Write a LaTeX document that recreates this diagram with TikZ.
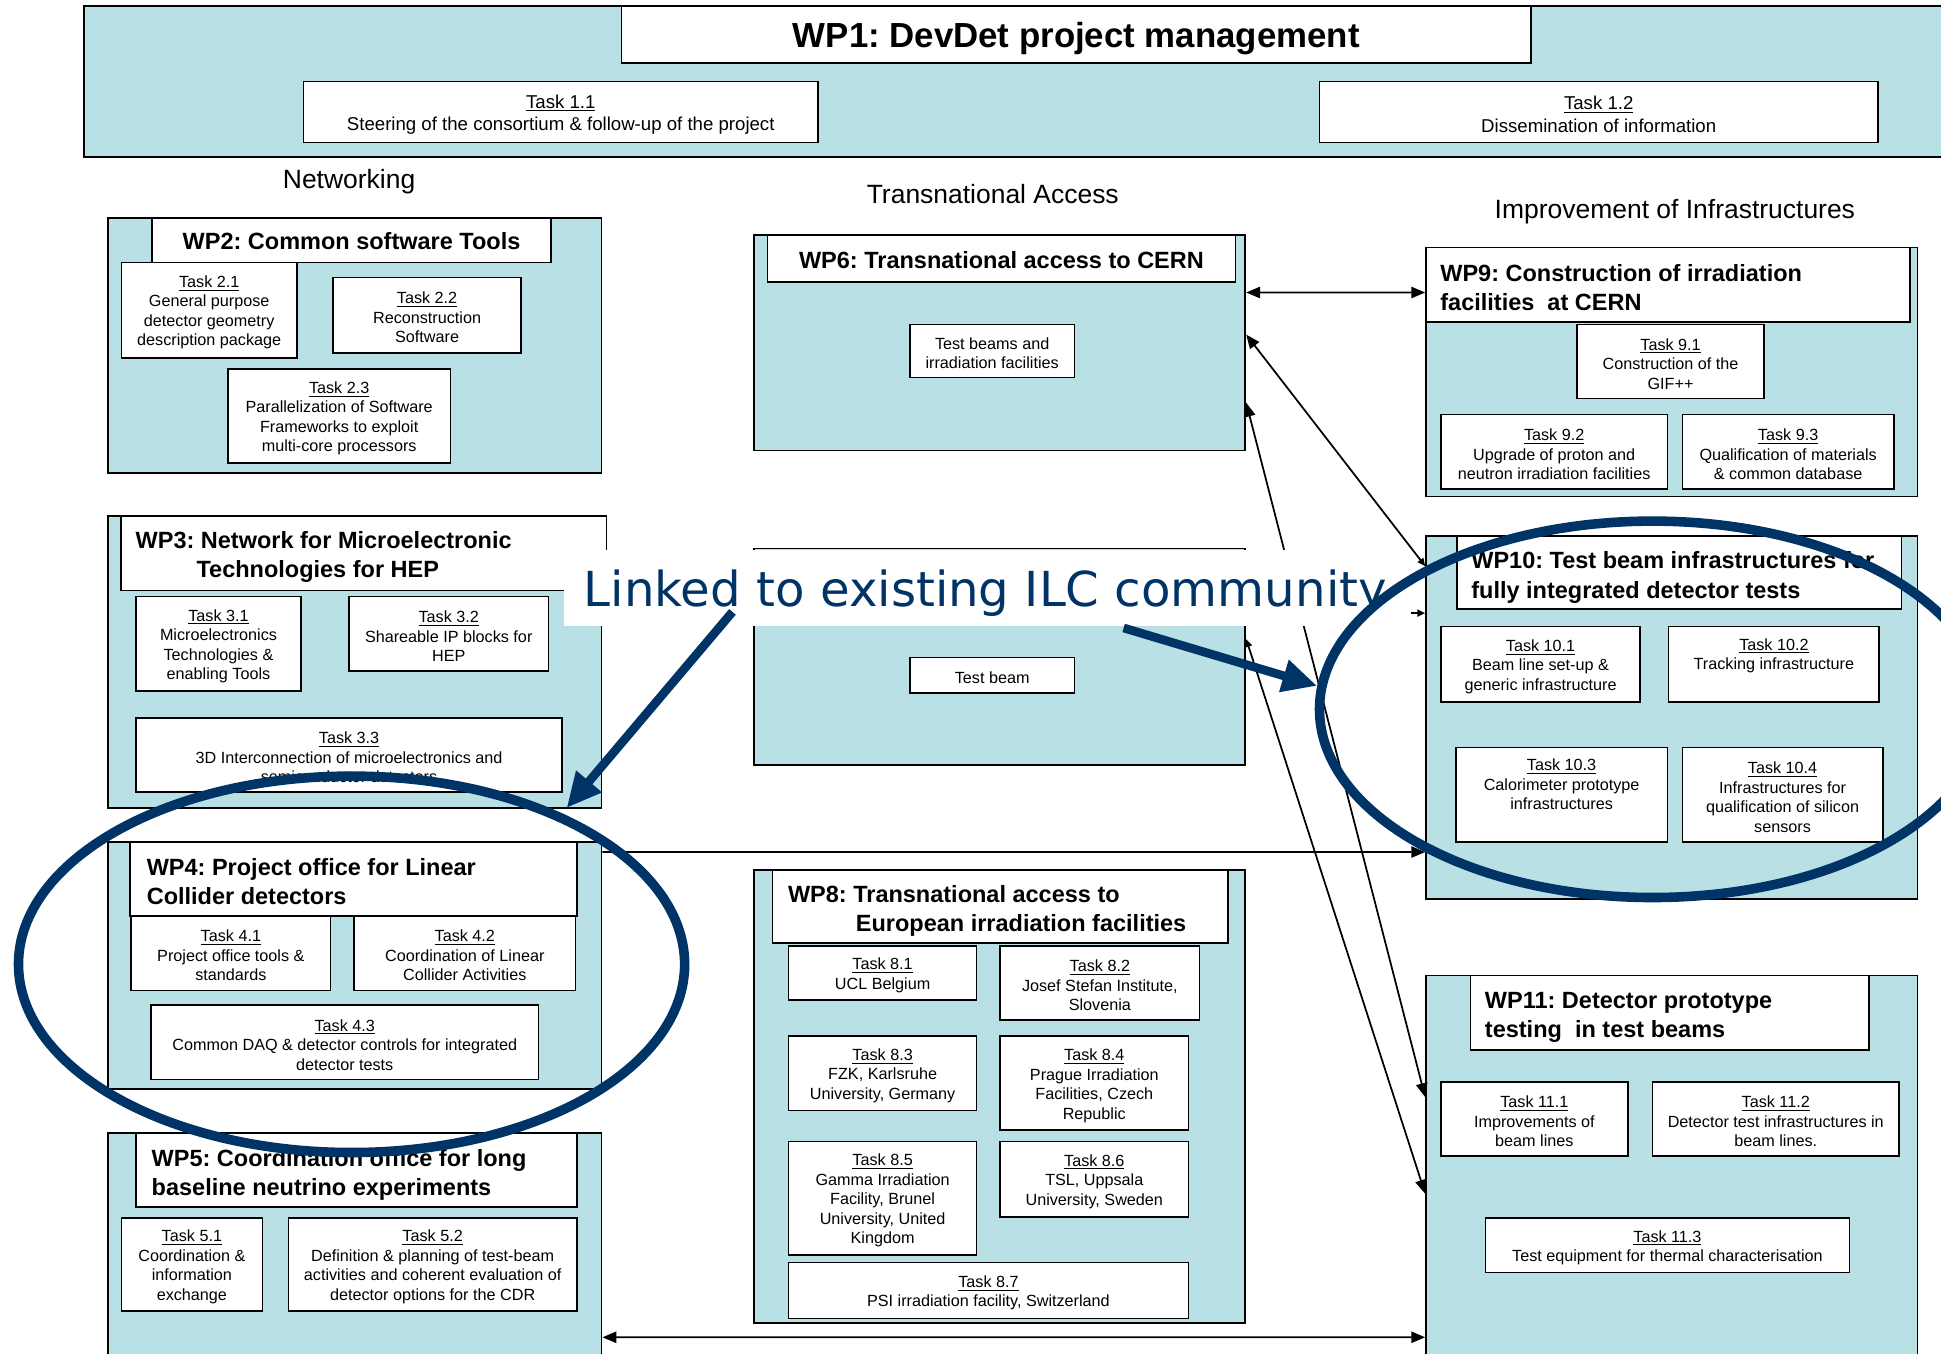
\documentclass[tikz,border=0pt]{standalone}
\usepackage{fontspec}
\setmainfont{Liberation Sans}
\newfontfamily\ilcfont{DejaVu Sans}
\usetikzlibrary{arrows.meta,calc,fit,shapes.geometric}
\definecolor{wpfill}{RGB}{185,224,228}
\definecolor{ilcblue}{RGB}{0,51,102}
\newcommand{\tname}[1]{\underline{Task #1}}
\tikzset{bigtip/.tip={Triangle[length=8pt,width=6.5pt]},
  smalltip/.tip={Triangle[length=4.5pt,width=4pt]}}
\frenchspacing

\begin{document}
\begin{tikzpicture}[x=0.025cm,y=-0.025cm,
  wp/.style={draw,fill=wpfill,line width=1pt,inner sep=0pt},
  titlebox/.style={draw,fill=white,line width=1pt,inner sep=0pt},
  wptitle/.style={font=\fontsize{13.5}{16.7}\selectfont\bfseries},
  wptext/.style={anchor=west,align=left,inner sep=0pt,wptitle},
  titletext/.style={label={[inner sep=0pt,yshift=-0.8pt,wptitle]center:{#1}}},
  task/.style={draw,fill=white,line width=0.9pt,inner sep=0pt},
  tasktext/.style={label={[inner sep=0pt,yshift=-1.4pt,align=center,font=\fontsize{9.3}{11.2}\selectfont]center:{#1}}},
  bigtext/.style={label={[inner sep=0pt,yshift=-1.4pt,align=center,font=\fontsize{10.7}{12.8}\selectfont]center:{#1}}},
  grouplabel/.style={font=\fontsize{15.2}{18}\selectfont},
  conn/.style={line width=1pt},
  ring/.style={ellipse,draw=ilcblue,line width=5.5pt,inner sep=0pt,
    minimum width=13.45cm,minimum height=7.6cm},
  ilcarrow/.style={draw=ilcblue,line width=5pt,-{Triangle[length=20pt,width=18pt]}},
  ilctext/.style={text=ilcblue,inner sep=0pt,font=\ilcfont\fontsize{27.7}{32}\selectfont}]
\useasboundingbox (0,0) rectangle (1568,1093);

\node[wp,fit={(68,5) (1575,127)}] (wp1) {};
\node[titlebox,fit={(502,5) (1237,51)},label={[inner sep=0pt,yshift=-2.5pt,font=\fontsize{20}{24}\selectfont\bfseries]center:{WP1: DevDet project management}}] (wp1t) {};
\node[task,fit={(245,66) (661,115)},bigtext={\tname{1.1}\\Steering of the consortium \& follow-up of the project}] (t11) {};
\node[task,fit={(1066,66) (1517,115)},bigtext={\tname{1.2}\\Dissemination of information}] (t12) {};

\node[grouplabel] (net) at (282,147) {Networking};
\node[grouplabel] (ta) at (802,157) {Transnational Access};
\node[grouplabel] (ii) at (1353,171) {Improvement of Infrastructures};

\node[wp,fit={(87,176) (486,382)}] (wp2) {};
\node[titlebox,fit={(123,176) (445,212)},titletext={WP2: Common software Tools}] (wp2t) {};
\node[task,fit={(98,212) (240,289)},tasktext={\tname{2.1}\\General purpose\\detector geometry\\description package}] (t21) {};
\node[task,fit={(269,224) (421,285)},tasktext={\tname{2.2}\\Reconstruction\\Software}] (t22) {};
\node[task,fit={(184,298) (364,374)},tasktext={\tname{2.3}\\Parallelization of Software\\Frameworks to exploit\\multi-core processors}] (t23) {};

\node[wp,fit={(87,417) (486,653)}] (wp3) {};
\node[titlebox,fit={(98,417) (490,477)}] (wp3t) {};
\node[wptext] (wp3n) at ($(wp3t.west)+(12,3)$) {WP3: Network for Microelectronic\\\hspace*{35pt}Technologies for HEP};
\node[task,fit={(110,482) (243,558)},tasktext={\tname{3.1}\\Microelectronics\\Technologies \&\\enabling Tools}] (t31) {};
\node[task,fit={(282,482) (443,542)},tasktext={\tname{3.2}\\Shareable IP blocks for\\HEP}] (t32) {};
\node[task,fit={(110,580) (454,640)},tasktext={\tname{3.3}\\3D Interconnection of microelectronics and\\semiconductor detectors}] (t33) {};

\node[wp,fit={(87,680) (486,880)}] (wp4) {};
\node[titlebox,fit={(105,680) (466,740)}] (wp4t) {};
\node[wptext] (wp4n) at ($(wp4t.west)+(14,2)$) {WP4: Project office for Linear\\Collider detectors};
\node[task,fit={(106,740) (267,800)},tasktext={\tname{4.1}\\Project office tools \&\\standards}] (t41) {};
\node[task,fit={(286,740) (465,800)},tasktext={\tname{4.2}\\Coordination of Linear\\Collider Activities}] (t42) {};
\node[task,fit={(122,812) (435,872)},tasktext={\tname{4.3}\\Common DAQ \& detector controls for integrated\\detector tests}] (t43) {};

\node[wp,fit={(87,915) (486,1110)}] (wp5) {};
\node[titlebox,fit={(110,915) (466,975)}] (wp5t) {};
\node[wptext] (wp5n) at ($(wp5t.west)+(13,4)$) {WP5: Coordination office for long\\baseline neutrino experiments};
\node[task,fit={(98,984) (212,1059)},tasktext={\tname{5.1}\\Coordination \&\\information\\exchange}] (t51) {};
\node[task,fit={(233,984) (466,1059)},tasktext={\tname{5.2}\\Definition \& planning of test-beam\\activities and coherent evaluation of\\detector options for the CDR}] (t52) {};

\node[wp,fit={(609,190) (1006,364)}] (wp6) {};
\node[titlebox,fit={(620,190) (998,228)},titletext={WP6: Transnational access to CERN}] (wp6t) {};
\node[task,fit={(735,262) (868,305)},tasktext={Test beams and\\irradiation facilities}] (t6) {};

\node[wp,fit={(609,443) (1006,618)}] (wp7) {};
\node[task,fit={(735,531) (868,560)},tasktext={Test beam}] (t7) {};

\node[wp,fit={(609,703) (1006,1069)}] (wp8) {};
\node[titlebox,fit={(624,703) (992,762)}] (wp8t) {};
\node[wptext] (wp8n) at ($(wp8t.west)+(13,3)$) {WP8: Transnational access to\\\hspace*{39pt}European irradiation facilities};
\node[task,fit={(637,764) (789,808)},tasktext={\tname{8.1}\\UCL Belgium}] (t81) {};
\node[task,fit={(808,764) (969,824)},tasktext={\tname{8.2}\\Josef Stefan Institute,\\Slovenia}] (t82) {};
\node[task,fit={(637,837) (789,897)},tasktext={\tname{8.3}\\FZK, Karlsruhe\\University, Germany}] (t83) {};
\node[task,fit={(808,837) (960,913)},tasktext={\tname{8.4}\\Prague Irradiation\\Facilities, Czech\\Republic}] (t84) {};
\node[task,fit={(637,922) (789,1014)},tasktext={\tname{8.5}\\Gamma Irradiation\\Facility, Brunel\\University, United\\Kingdom}] (t85) {};
\node[task,fit={(808,922) (960,983)},tasktext={\tname{8.6}\\TSL, Uppsala\\University, Sweden}] (t86) {};
\node[task,fit={(637,1020) (960,1065)},tasktext={\tname{8.7}\\PSI irradiation facility, Switzerland}] (t87) {};

\node[wp,fit={(1152,200) (1549,401)}] (wp9) {};
\node[titlebox,fit={(1152,200) (1543,260)}] (wp9t) {};
\node[wptext] (wp9n) at ($(wp9t.west)+(12,2)$) {WP9: Construction of irradiation\\facilities\ \ at CERN};
\node[task,fit={(1274,262) (1425,322)},tasktext={\tname{9.1}\\Construction of the\\GIF++}] (t91) {};
\node[task,fit={(1164,335) (1347,395)},tasktext={\tname{9.2}\\Upgrade of proton and\\neutron irradiation facilities}] (t92) {};
\node[task,fit={(1359,335) (1530,395)},tasktext={\tname{9.3}\\Qualification of materials\\\& common database}] (t93) {};

\node[wp,fit={(1152,433) (1549,726)}] (wp10) {};
\node[titlebox,fit={(1177,433) (1536,492)}] (wp10t) {};
\node[wptext] (wp10n) at ($(wp10t.west)+(12,4)$) {WP10: Test beam infrastructures for\\fully integrated detector tests};
\node[task,fit={(1164,506) (1325,567)},tasktext={\tname{10.1}\\Beam line set-up \&\\generic infrastructure}] (t101) {};
\node[task,fit={(1348,506) (1518,567)},tasktext={\tname{10.2}\\Tracking infrastructure\\\strut}] (t102) {};
\node[task,fit={(1176,604) (1347,680)},tasktext={\tname{10.3}\\Calorimeter prototype\\infrastructures\\\strut}] (t103) {};
\node[task,fit={(1359,604) (1521,680)},tasktext={\tname{10.4}\\Infrastructures for\\qualification of silicon\\sensors}] (t104) {};

\node[wp,fit={(1152,788) (1549,1110)}] (wp11) {};
\node[titlebox,fit={(1188,788) (1510,848)}] (wp11t) {};
\node[wptext] (wp11n) at ($(wp11t.west)+(12,4)$) {WP11: Detector prototype\\testing\ \ in test beams};
\node[task,fit={(1164,874) (1315,934)},tasktext={\tname{11.1}\\Improvements of\\beam lines}] (t111) {};
\node[task,fit={(1335,874) (1534,934)},tasktext={\tname{11.2}\\Detector test infrastructures in\\beam lines.}] (t112) {};
\node[task,fit={(1200,984) (1494,1028)},tasktext={\tname{11.3}\\Test equipment for thermal characterisation}] (t113) {};

\draw[conn,bigtip-bigtip] ($(wp6.north east)+(0,47)$) -- ($(wp9.north west)+(0,37)$);
\draw[conn,bigtip-smalltip] ($(wp6.north east)+(0,81)$) -- ($(wp10.north west)+(0,25)$);
\draw[conn,bigtip-bigtip] ($(wp6.north east)+(0,136)$) -- ($(wp11.north west)+(0,99)$);
\draw[conn,-smalltip] ($(wp7.north east)+(0,53)$) -- ($(wp10.north west)+(0,63)$);
\draw[conn,smalltip-bigtip] ($(wp7.north east)+(0,74)$) -- ($(wp11.north west)+(0,177)$);
\draw[conn,-bigtip] ($(wp4.north east)+(0,9)$) -- ($(wp10.north west)+(0,256)$);
\draw[conn,bigtip-bigtip] ($(wp5.north east)+(0,166)$) -- ($(wp11.north west)+(0,293)$);

\node[fill=white,inner sep=0pt,fit={(456,444) (1140,506)}] (ilc) {};
\node[ilctext,anchor=base] (ilcn) at ($(ilc.south)+(-2,-16)$) {Linked to existing ILC community};

\node[ring] (ring1) at (284,779) {};
\node[ring] (ring2) at (1335,573) {};

\draw[ilcarrow] ($(ilc.south west)+(136,-12)$) -- ($(wp3.south east)+(-29,-1)$);
\draw[ilcarrow] ($(ilc.south west)+(452,1)$) -- (ring2.176);

\end{tikzpicture}
\end{document}
